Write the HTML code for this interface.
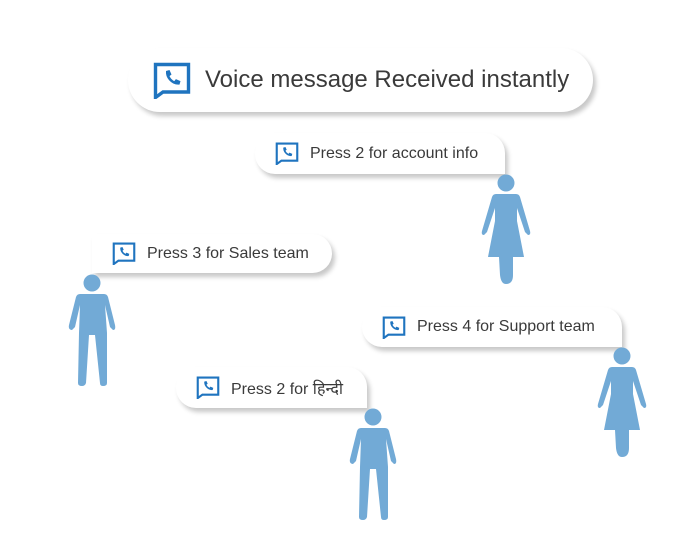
<!DOCTYPE html>
<html><head><meta charset="utf-8"><style>
html,body{margin:0;padding:0;background:#fff;}
body{width:678px;height:546px;position:relative;overflow:hidden;font-family:"Liberation Sans","Noto Sans CJK SC",sans-serif;}
.b{position:absolute;background:#fff;box-shadow:3px 4px 5px rgba(0,0,0,0.22);color:#3a3a3a;display:flex;align-items:center;box-sizing:border-box;white-space:nowrap;}
.b svg{flex:none;}
.s{font-size:16px;}
svg.fig{position:absolute;left:0;top:0;}
</style></head><body>
<svg width="0" height="0" style="position:absolute">
<defs>
<symbol id="ic" viewBox="0 0 38 37">
<path d="M3,2.5 H35.5 V30 H10 L2.5,35.5 V2.5 Z" fill="none" stroke="#1f74bf" stroke-width="3.4" stroke-linejoin="miter"/>
<path d="M13,9 l3.5,-1 l2,4.5 l-2,1.6 q1.8,3.6 4.8,5 l1.6,-2 l4.6,2 l-1,3.5 q-6,0.6 -10.5,-4.5 q-3.5,-4 -3,-9.1z" fill="#1f74bf"/>
</symbol>
</defs></svg>

<div class="b" style="left:128px;top:48px;width:465px;height:64px;border-radius:32px;padding-left:25px;font-size:24px;">
<svg width="38" height="37"><use href="#ic"/></svg><span style="margin-left:14px">Voice message Received instantly</span></div>

<div class="b s" style="left:255px;top:133px;width:250px;height:41px;border-radius:20px 20px 0 20px;padding-left:20px;">
<svg width="24" height="23"><use href="#ic"/></svg><span style="margin-left:11px">Press 2 for account info</span></div>

<div class="b s" style="left:92px;top:234px;width:240px;height:39px;border-radius:4px 20px 20px 0;padding-left:20px;">
<svg width="24" height="23"><use href="#ic"/></svg><span style="margin-left:11px">Press 3 for Sales team</span></div>

<div class="b s" style="left:362px;top:307px;width:260px;height:40px;border-radius:20px 20px 0 20px;padding-left:20px;">
<svg width="24" height="23"><use href="#ic"/></svg><span style="margin-left:11px">Press 4 for Support team</span></div>

<div class="b s" style="left:176px;top:367px;width:191px;height:41px;border-radius:20px 20px 0 20px;padding-left:20px;">
<svg width="24" height="23"><use href="#ic"/></svg><span style="margin-left:11px">Press 2 for हिन्दी</span></div>

<svg class="fig" width="678" height="546">
<defs>
<g id="man" fill="#72aad6">
<circle cx="0" cy="0" r="8.5"/>
<path d="M-12,11 H12 Q15,11 16,14 L23,42 Q24,47 21,47 L18,44 L13,22 L15,50 L15,100 Q15,103 11,103 Q8,103 8,100 L3,52 L-3,52 L-6,100 Q-7,103 -10,103 Q-14,103 -14,100 L-13,50 L-12,22 L-17,44 L-20,47 Q-24,47 -23,42 L-16,14 Q-15,11 -12,11 Z"/>
</g>
<g id="woman" fill="#72aad6">
<circle cx="0" cy="0" r="8.5"/>
<path d="M-10,11 H10 Q13,11 14,14 L24,48 Q25,52 22,52 L19,49 L11,25 L11,38 L18,74 H7 L7,92 Q7,101 0,101 Q-5,101 -6,92 L-7,74 H-18 L-11,38 L-11,25 L-19,49 L-22,52 Q-25,52 -24,48 L-14,14 Q-13,11 -10,11 Z"/>
</g>
</defs>
<use href="#woman" x="506" y="183"/>
<use href="#man" x="92" y="283"/>
<use href="#woman" x="622" y="356"/>
<use href="#man" x="373" y="417"/>
</svg>
</body></html>
